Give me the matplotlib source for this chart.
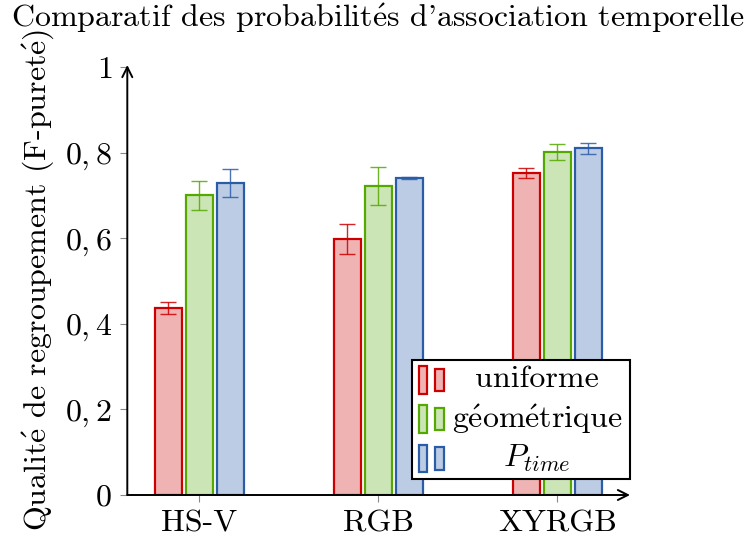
import numpy as np
import matplotlib
matplotlib.use('Agg')
import matplotlib.pyplot as plt
from matplotlib.patches import Rectangle
from matplotlib.offsetbox import AnchoredOffsetbox, VPacker, HPacker, TextArea, DrawingArea

plt.rcParams['font.family'] = ['cmr10', 'DejaVu Serif']
plt.rcParams['mathtext.fontset'] = 'cm'
plt.rcParams['axes.unicode_minus'] = False
plt.rcParams['axes.formatter.use_mathtext'] = True

categories = ['HS-V', 'RGB', 'XYRGB']
series_names = ['uniforme', 'g$\\mathrm{\\acute{e}}$om$\\mathrm{\\acute{e}}$trique', '$P_{time}$']
uniforme = [0.437, 0.598, 0.752]
uniforme_err = [0.015, 0.035, 0.012]
geometrique = [0.700, 0.722, 0.801]
geometrique_err = [0.033, 0.045, 0.019]
ptime = [0.730, 0.741, 0.810]
ptime_err = [0.033, 0.003, 0.013]

edge_colors = ['#CC0000', '#55A800', '#2B5CA8']
fill_colors = ['#EFB3B3', '#CCE5B6', '#BCCCE4']
yticks = [0, 0.2, 0.4, 0.6, 0.8, 1]
ytick_labels = ['$0$', '$0,2$', '$0,4$', '$0,6$', '$0,8$', '$1$']
fs = 23

fig = plt.figure(figsize=(7.47, 5.46), dpi=100)
ax = fig.add_axes([127.3 / 747, 51 / 546, (630 - 127.3) / 747, (495 - 65) / 546])

x = np.arange(len(categories))
width = 0.15
step = 0.173
values = [uniforme, geometrique, ptime]
errs = [uniforme_err, geometrique_err, ptime_err]
for i in range(3):
    ax.bar(x + (i - 1) * step, values[i], width, color=fill_colors[i],
           edgecolor=edge_colors[i], linewidth=1.6, zorder=2)
    ax.errorbar(x + (i - 1) * step, values[i], yerr=errs[i], fmt='none',
                ecolor=edge_colors[i], elinewidth=1.0, capsize=5.5,
                capthick=1.0, alpha=0.85, zorder=3)

ax.set_xlim(-0.402, 2.406)
ax.set_ylim(0, 1.005)
ax.set_xticks(x)
ax.set_xticklabels(categories, fontsize=fs)
ax.set_yticks(yticks)
ax.set_yticklabels(ytick_labels, fontsize=fs)
ax.tick_params(axis='both', direction='out', length=5, width=0.8, color='#888888', pad=6)

for s in ax.spines.values():
    s.set_visible(False)
ax.annotate('', xy=(1, 0), xytext=(0, 0), xycoords='axes fraction',
            arrowprops=dict(arrowstyle='->', lw=1.4, color='black', shrinkA=0, shrinkB=0,
                            mutation_scale=18))
ax.annotate('', xy=(0, 1), xytext=(0, 0), xycoords='axes fraction',
            arrowprops=dict(arrowstyle='->', lw=1.4, color='black', shrinkA=0, shrinkB=0,
                            mutation_scale=18))

ax.set_ylabel('Qualit$\\mathrm{\\acute{e}}$ de regroupement (F-puret$\\mathrm{\\acute{e}}$)',
              fontsize=fs, labelpad=6)
fig.text(0.506, 0.967, "Comparatif des probabilit$\\mathrm{\\acute{e}}$s d'association temporelle",
         fontsize=fs, ha='center', va='center')

# legend: two small bars + centred text, like pgfplots
renderer = fig.canvas.get_renderer()
text_w = []
for name in series_names:
    t = fig.text(0, 0, name, fontsize=fs)
    text_w.append(t.get_window_extent(renderer).width * 72 / 100)
    t.remove()
max_w = max(text_w)

rows = []
for i in range(3):
    da = DrawingArea(22, 22, 0, 0)
    da.add_artist(Rectangle((1, 1), 6, 20, facecolor=fill_colors[i], edgecolor=edge_colors[i], lw=1.6))
    da.add_artist(Rectangle((13, 3), 6, 16, facecolor=fill_colors[i], edgecolor=edge_colors[i], lw=1.6))
    pad = (max_w - text_w[i]) / 2
    rows.append(HPacker(children=[da, DrawingArea(pad + 3, 1), TextArea(series_names[i], textprops=dict(fontsize=fs)),
                                  DrawingArea(pad + 2, 1)], align='center', pad=0, sep=0))
box = VPacker(children=rows, align='left', pad=0, sep=5)
ab = AnchoredOffsetbox(loc='lower right', child=box, bbox_to_anchor=(1.0, 0.037),
                       bbox_transform=ax.transAxes, frameon=True, borderpad=0, pad=0.35)
ab.patch.set_boxstyle('square', pad=0)
ab.patch.set_edgecolor('black')
ab.patch.set_linewidth(1.5)
ab.set_zorder(5)
ax.add_artist(ab)

fig.savefig('out.png', dpi=100)
